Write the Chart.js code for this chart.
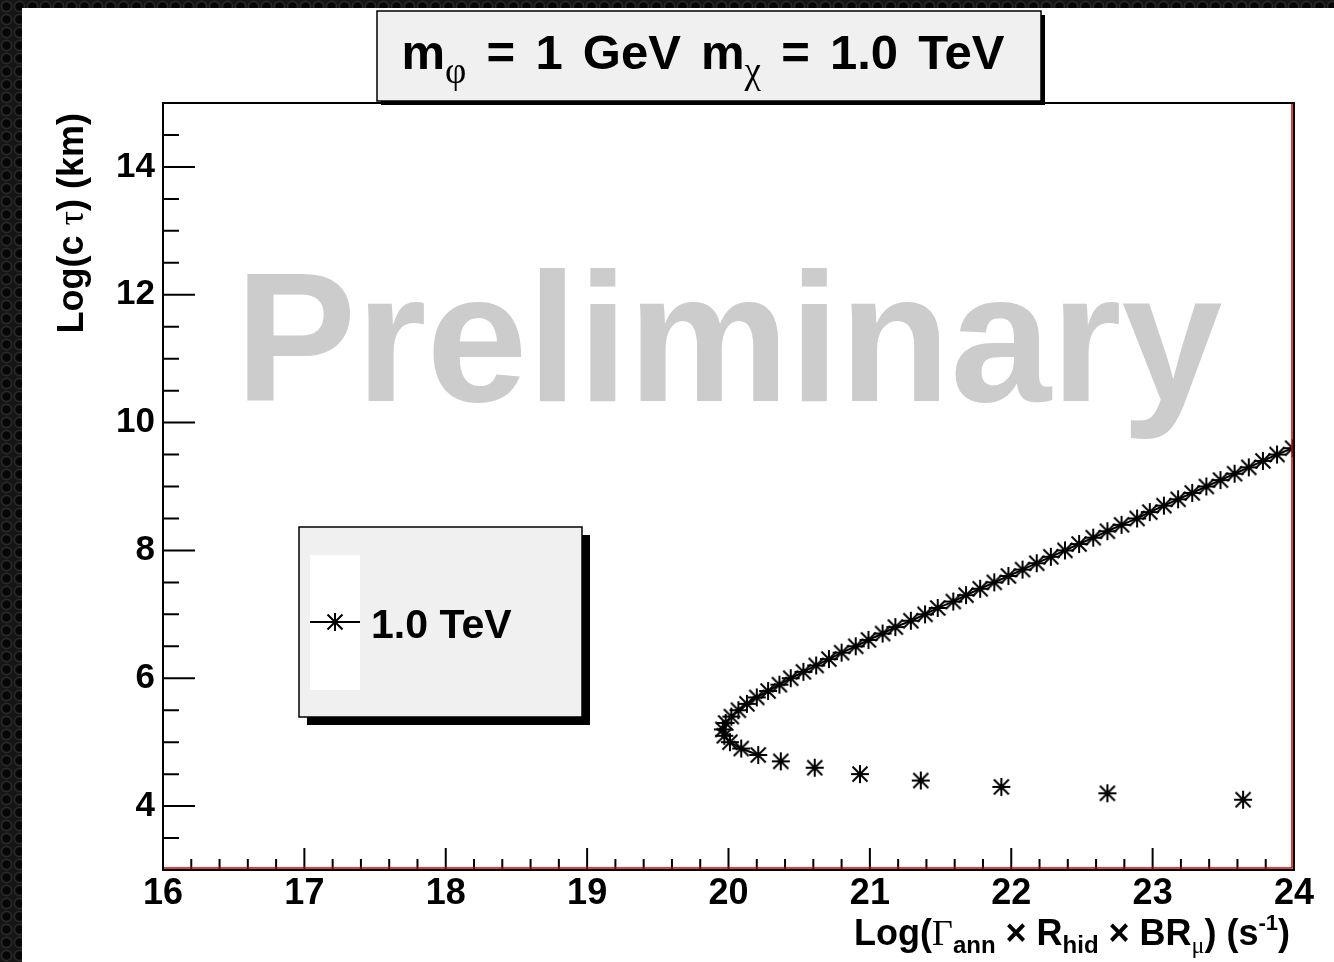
<!DOCTYPE html>
<html>
<head>
<meta charset="utf-8">
<title>Lifetime vs annihilation rate</title>
<script src="https://cdn.jsdelivr.net/npm/chart.js@4.4.1/dist/chart.umd.min.js"></script>
<style>
  html, body { margin: 0; padding: 0; }
  body {
    width: 1334px; height: 962px; overflow: hidden; position: relative;
    background-color: #141414;
    background-image: radial-gradient(circle, #060606 38%, #2b2b2b 56%, #151515 70%);
    background-size: 13px 13px;
  }
  #pad { position: absolute; left: 22px; top: 8px; width: 1312px; height: 954px; background: #fff; }
</style>
</head>
<body>
<div id="pad"><canvas id="lifetimeChart" width="1312" height="954"></canvas></div>
<script>
// log10(c tau / km), one point every 0.1
const logCTau = [
  4.1, 4.2, 4.3, 4.4, 4.5, 4.6, 4.7, 4.8, 4.9, 5.0,
  5.1, 5.2, 5.3, 5.4, 5.5, 5.6, 5.7, 5.8, 5.9, 6.0,
  6.1, 6.2, 6.3, 6.4, 6.5, 6.6, 6.7, 6.8, 6.9, 7.0,
  7.1, 7.2, 7.3, 7.4, 7.5, 7.6, 7.7, 7.8, 7.9, 8.0,
  8.1, 8.2, 8.3, 8.4, 8.5, 8.6, 8.7, 8.8, 8.9, 9.0,
  9.1, 9.2, 9.3, 9.4, 9.5, 9.6
];
// log10(Gamma_ann x R_hid x BR_mu / s^-1) needed at each lifetime
const logGamma = [
  23.64, 22.68, 21.93, 21.36, 20.93, 20.61, 20.37, 20.21, 20.09, 20.01,
  19.97, 19.96, 19.98, 20.02, 20.07, 20.13, 20.20, 20.28, 20.36, 20.44,
  20.53, 20.62, 20.71, 20.80, 20.90, 20.99, 21.09, 21.18, 21.29, 21.39,
  21.48, 21.59, 21.68, 21.78, 21.88, 21.98, 22.08, 22.18, 22.28, 22.38,
  22.48, 22.58, 22.68, 22.78, 22.89, 22.98, 23.08, 23.18, 23.28, 23.38,
  23.48, 23.58, 23.68, 23.78, 23.88, 23.99
];
const xTicks = [16, 17, 18, 19, 20, 21, 22, 23, 24];
const yTicks = [4, 6, 8, 10, 12, 14];
const seriesLabel = '1.0 TeV';
const watermark = 'Preliminary';

const SANS = '"Liberation Sans", Helvetica, Arial, sans-serif';
const SERIF = '"Liberation Serif", "DejaVu Serif", serif';
Chart.defaults.font.family = SANS;

// ROOT style "*" marker
function drawStar(g, x, y) {
  g.beginPath();
  g.moveTo(x, y - 9); g.lineTo(x, y + 9);
  g.moveTo(x - 9, y); g.lineTo(x + 9, y);
  g.moveTo(x - 7.5, y - 7.5); g.lineTo(x + 7.5, y + 7.5);
  g.moveTo(x + 7.5, y - 7.5); g.lineTo(x - 7.5, y + 7.5);
  g.stroke();
}
const starImg = document.createElement('canvas');
starImg.width = 22; starImg.height = 22;
(function () {
  const g = starImg.getContext('2d');
  g.strokeStyle = '#000'; g.lineWidth = 2;
  drawStar(g, 11, 11);
})();

// text made of pieces with their own font and vertical shift; spaces stretch to fitWidth
function drawRich(ctx, parts, x, y, align, fitWidth) {
  const tokens = [];
  parts.forEach(p => {
    ctx.font = p.f;
    p.t.split(/( )/).forEach(s => {
      if (s) tokens.push({ s, f: p.f, dy: p.dy || 0, w: ctx.measureText(s).width, space: s === ' ' });
    });
  });
  let total = tokens.reduce((t, k) => t + k.w, 0);
  const nSpace = tokens.filter(k => k.space).length;
  const extra = fitWidth && nSpace ? (fitWidth - total) / nSpace : 0;
  total += extra * nSpace;
  let cx = align === 'right' ? x - total : align === 'center' ? x - total / 2 : x;
  tokens.forEach(k => {
    if (!k.space) { ctx.font = k.f; ctx.fillText(k.s, cx, y + k.dy); }
    cx += k.w + (k.space ? extra : 0);
  });
}

const rootFrame = {
  id: 'rootFrame',
  beforeDatasetsDraw(chart) {
    const { ctx } = chart;
    ctx.save();
    ctx.font = 'bold 184px ' + SANS;
    ctx.fillStyle = '#cccccc';
    ctx.textBaseline = 'alphabetic';
    const m = ctx.measureText(watermark);
    const k = 975 / (m.actualBoundingBoxLeft + m.actualBoundingBoxRight);
    ctx.translate(225 + m.actualBoundingBoxLeft * k, 393);
    ctx.scale(k, 1);
    ctx.fillText(watermark, 0, 0);
    ctx.restore();
  },
  afterDatasetsDraw(chart) {
    const { ctx, chartArea: a } = chart;
    const xs = chart.scales.x, ys = chart.scales.y;
    ctx.save();
    ctx.strokeStyle = '#000';
    ctx.lineWidth = 2;
    ctx.beginPath();
    // x ticks: 5 divisions per unit
    for (let i = xs.min * 5; i <= xs.max * 5; i++) {
      const px = xs.getPixelForValue(i / 5);
      ctx.moveTo(px, a.bottom);
      ctx.lineTo(px, a.bottom - (i % 5 === 0 ? 22 : 11));
    }
    // y ticks: 4 divisions per 2 units
    for (let i = ys.min * 2; i <= ys.max * 2; i++) {
      const py = ys.getPixelForValue(i / 2);
      ctx.moveTo(a.left, py);
      ctx.lineTo(a.left + (i % 4 === 0 ? 32 : 16), py);
    }
    ctx.stroke();
    ctx.strokeRect(a.left, a.top, a.right - a.left, a.bottom - a.top);
    ctx.strokeStyle = '#d40000';
    ctx.lineWidth = 1.5;
    ctx.beginPath();
    ctx.moveTo(a.left + 1, a.bottom - 2);
    ctx.lineTo(a.right - 2, a.bottom - 2);
    ctx.lineTo(a.right - 2, a.top + 1);
    ctx.stroke();

    // legend box
    ctx.fillStyle = '#000';
    ctx.fillRect(285, 527, 283, 190);
    ctx.fillStyle = '#f0f0f0';
    ctx.fillRect(277, 519, 283, 190);
    ctx.lineWidth = 1.5;
    ctx.strokeStyle = '#000';
    ctx.strokeRect(277, 519, 283, 190);
    ctx.fillStyle = '#fff';
    ctx.fillRect(288, 547, 50, 135);
    ctx.beginPath();
    ctx.moveTo(288, 614); ctx.lineTo(338, 614);
    ctx.lineWidth = 2;
    ctx.stroke();
    drawStar(ctx, 313, 614);
    ctx.fillStyle = '#000';
    ctx.textBaseline = 'alphabetic';
    ctx.textAlign = 'left';
    ctx.font = 'bold 41px ' + SANS;
    ctx.fillText(seriesLabel, 349, 630);
    ctx.restore();
  },
  afterDraw(chart) {
    const { ctx } = chart;
    ctx.save();
    ctx.textAlign = 'left';
    ctx.textBaseline = 'alphabetic';
    // title box
    ctx.fillStyle = '#000';
    ctx.fillRect(359, 7, 664, 90);
    ctx.fillStyle = '#f0f0f0';
    ctx.fillRect(355, 3, 664, 90);
    ctx.strokeStyle = '#000';
    ctx.lineWidth = 1.5;
    ctx.strokeRect(355, 3, 664, 90);
    ctx.fillStyle = '#000';
    const tb = 'bold 49px ' + SANS, tg = '37px ' + SERIF;
    drawRich(ctx, [
      { t: 'm', f: tb }, { t: 'φ', f: tg, dy: 14 },
      { t: ' = 1 GeV m', f: tb }, { t: 'χ', f: tg, dy: 14 },
      { t: ' = 1.0 TeV', f: tb }
    ], 681, 61, 'center', 603);

    // x axis title
    const ab = 'bold 36px ' + SANS, as = 'bold 24px ' + SANS;
    drawRich(ctx, [
      { t: 'Log(', f: ab }, { t: 'Γ', f: '36px ' + SERIF },
      { t: 'ann', f: as, dy: 8 }, { t: ' × R', f: ab },
      { t: 'hid', f: as, dy: 8 }, { t: ' × BR', f: ab },
      { t: 'μ', f: '24px ' + SERIF, dy: 8 }, { t: ') (s', f: ab },
      { t: '-1', f: 'bold 22px ' + SANS, dy: -15 }, { t: ')', f: ab }
    ], 1268, 937, 'right');

    // y axis title
    ctx.translate(61, 105);
    ctx.rotate(-Math.PI / 2);
    drawRich(ctx, [
      { t: 'Log(c ', f: ab }, { t: 'τ', f: '36px ' + SERIF }, { t: ') (km)', f: ab }
    ], 0, 0, 'right');
    ctx.restore();
  }
};

const points = logGamma.map((x, i) => ({ x, y: logCTau[i] }));

new Chart(document.getElementById('lifetimeChart'), {
  type: 'scatter',
  data: {
    datasets: [{
      label: seriesLabel,
      data: points,
      showLine: true,
      borderColor: '#000',
      borderWidth: 2,
      pointStyle: starImg,
      pointRadius: 9,
      // the sparse low-lifetime points are not joined
      segment: { borderColor: s => s.p0.parsed.y < 4.75 ? 'rgba(0,0,0,0)' : '#000' }
    }]
  },
  options: {
    responsive: false,
    animation: false,
    devicePixelRatio: 1,
    layout: { padding: { top: 95, right: 40, left: 0, bottom: 0 } },
    plugins: { legend: { display: false }, tooltip: { enabled: false } },
    scales: {
      x: {
        type: 'linear', min: 16, max: 24,
        afterBuildTicks: s => { s.ticks = xTicks.map(v => ({ value: v })); },
        afterFit: s => { s.height = 92; },
        grid: { display: false, drawTicks: false },
        border: { display: false },
        ticks: { color: '#000', padding: 2, maxRotation: 0, autoSkip: false,
                 font: { size: 36, weight: 'bold' } }
      },
      y: {
        type: 'linear', min: 3, max: 15,
        afterBuildTicks: s => { s.ticks = yTicks.map(v => ({ value: v })); },
        afterFit: s => { s.width = 141; },
        grid: { display: false, drawTicks: false },
        border: { display: false },
        ticks: { color: '#000', padding: 8, autoSkip: false,
                 font: { size: 35, weight: 'bold' } }
      }
    }
  },
  plugins: [rootFrame]
});
</script>
</body>
</html>
